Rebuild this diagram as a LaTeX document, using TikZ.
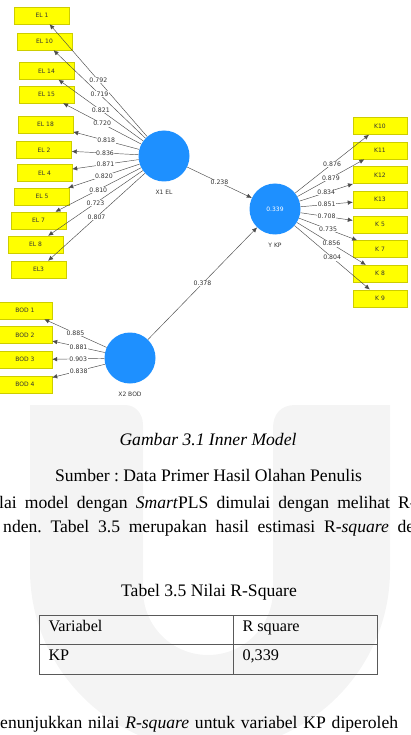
\documentclass[tikz,border=0pt]{standalone}
\usepackage{fontspec}
\setmainfont{Liberation Serif}
\newfontfamily\plsfont{DejaVu Sans}
\usetikzlibrary{arrows.meta,positioning}
\definecolor{plsblue}{RGB}{30,144,255}
\definecolor{plsyellow}{RGB}{255,255,0}
\definecolor{plsedge}{RGB}{205,205,0}
\definecolor{markgray}{RGB}{244,244,244}
\frenchspacing

\begin{document}
\begin{tikzpicture}[x=1pt, y=-1pt,
  node distance=7.2pt,
  indicator/.style={draw=plsedge, fill=plsyellow, minimum width=55pt, minimum height=17pt,
              inner sep=0pt, font=\plsfont\fontsize{6}{7}\selectfont, text=black!80},
  construct/.style={circle, fill=plsblue, minimum size=51pt, inner sep=0pt,
              font=\plsfont\fontsize{6}{7}\selectfont, text=white},
  cname/.style={font=\plsfont\fontsize{6}{7}\selectfont, text=black!80, inner sep=1pt},
  loading/.style={fill=white, inner sep=0.6pt, font=\plsfont\fontsize{6.2}{7}\selectfont, text=black!80},
  arrow/.style={-{Latex[length=5pt, width=4.5pt]}, draw=black!70, line width=0.45pt},
  doc/.style={font=\fontsize{17.6}{21}\selectfont, inner sep=0pt},
  cell/.style={font=\fontsize{16.2}{19}\selectfont, inner sep=0pt, anchor=base west},
  rule/.style={draw=black!65, line width=0.8pt}
]
\clip (0,0) rectangle (411,735);
% faint watermark behind the page text
\fill[markgray] (30,405) -- (125,405) .. controls (135,405) and (143,413) .. (143,425)
  -- (143,590) .. controls (143,626) and (172,655) .. (208,655)
  .. controls (244,655) and (273,626) .. (273,590) -- (273,428)
  .. controls (273,414) and (281,405) .. (295,405) -- (390,405) -- (390,570)
  .. controls (390,669) and (309,750) .. (210,750)
  .. controls (111,750) and (30,669) .. (30,570) -- cycle;

% latent variables
\node[construct] (X1EL) at (164,156) {};
\node[construct] (YKP) at (275,209) {0.339};
\node[construct] (X2BOD) at (130,358) {};
\node[cname, below=7.5pt of X1EL] (X1ELname) {X1 EL};
\node[cname, below=7.5pt of YKP] (YKPname) {Y KP};
\node[cname, below=7.5pt of X2BOD] (X2BODname) {X2 BOD};

% indicators of X1 EL
\node[indicator] (EL1) at (42,15.5) {EL 1};
\node[indicator] (EL10) at (44.5,41.5) {EL 10};
\node[indicator] (EL14) at (46.5,71) {EL 14};
\node[indicator] (EL15) at (46.5,94.5) {EL 15};
\node[indicator] (EL18) at (45.5,124.5) {EL 18};
\node[indicator] (EL2) at (44,150) {EL 2};
\node[indicator] (EL4) at (44.5,173) {EL 4};
\node[indicator] (EL5) at (42,196.5) {EL 5};
\node[indicator] (EL7) at (38.5,220.5) {EL 7};
\node[indicator] (EL8) at (35.5,244.5) {EL 8};
\node[indicator] (EL3) at (38.5,269.5) {EL3};

% indicators of Y KP
\node[indicator, minimum width=54pt] (K10) at (380,126) {K10};
\node[indicator, minimum width=54pt, below=of K10] (K11) {K11};
\node[indicator, minimum width=54pt, below=of K11] (K12) {K12};
\node[indicator, minimum width=54pt, below=of K12] (K13) {K13};
\node[indicator, minimum width=54pt, below=of K13] (K5) {K 5};
\node[indicator, minimum width=54pt, below=of K5] (K7) {K 7};
\node[indicator, minimum width=54pt, below=of K7] (K8) {K 8};
\node[indicator, minimum width=54pt, below=of K8] (K9) {K 9};

% indicators of X2 BOD
\node[indicator, minimum width=54pt] (BOD1) at (25,310.5) {BOD 1};
\node[indicator, minimum width=54pt, below=of BOD1] (BOD2) {BOD 2};
\node[indicator, minimum width=54pt, below=of BOD2] (BOD3) {BOD 3};
\node[indicator, minimum width=54pt, below=of BOD3] (BOD4) {BOD 4};

% outer loadings
\draw[arrow] (X1EL) -- node[loading] {0.792} (EL1);
\draw[arrow] (X1EL) -- node[loading] {0.719} (EL10);
\draw[arrow] (X1EL) -- node[loading] {0.821} (EL14);
\draw[arrow] (X1EL) -- node[loading] {0.720} (EL15);
\draw[arrow] (X1EL) -- node[loading] {0.818} (EL18);
\draw[arrow] (X1EL) -- node[loading] {0.836} (EL2);
\draw[arrow] (X1EL) -- node[loading] {0.871} (EL4);
\draw[arrow] (X1EL) -- node[loading] {0.820} (EL5);
\draw[arrow] (X1EL) -- node[loading] {0.810} (EL7);
\draw[arrow] (X1EL) -- node[loading] {0.723} (EL8);
\draw[arrow] (X1EL) -- node[loading] {0.807} (EL3);
\draw[arrow] (YKP) -- node[loading] {0.876} (K10);
\draw[arrow] (YKP) -- node[loading] {0.879} (K11);
\draw[arrow] (YKP) -- node[loading] {0.834} (K12);
\draw[arrow] (YKP) -- node[loading] {0.851} (K13);
\draw[arrow] (YKP) -- node[loading] {0.708} (K5);
\draw[arrow] (YKP) -- node[loading] {0.735} (K7);
\draw[arrow] (YKP) -- node[loading] {0.856} (K8);
\draw[arrow] (YKP) -- node[loading] {0.804} (K9);
\draw[arrow] (X2BOD) -- node[loading] {0.885} (BOD1);
\draw[arrow] (X2BOD) -- node[loading] {0.881} (BOD2);
\draw[arrow] (X2BOD) -- node[loading] {0.903} (BOD3);
\draw[arrow] (X2BOD) -- node[loading] {0.838} (BOD4);

% path coefficients
\draw[arrow] (X1EL) -- node[loading] {0.238} (YKP);
\draw[arrow] (X2BOD) -- node[loading] {0.378} (YKP);

% page text under the figure
\node[doc, anchor=base] (caption) at (208,445) {\itshape Gambar 3.1 Inner Model};
\node[doc, anchor=base] (source) at (208.5,481) {Sumber : Data Primer Hasil Olahan Penulis};
\node[doc, anchor=base west] (para1) at (-1,508)
  {\makebox[416.5pt][s]{lai model dengan \textit{Smart}PLS dimulai dengan melihat R-}};
\node[doc, anchor=base west] (para2) at (3,532)
  {\makebox[411pt][s]{nden. Tabel 3.5 merupakan hasil estimasi R-\textit{square} de}};
\node[doc, anchor=base] (tabcap) at (209,596) {Tabel 3.5 Nilai R-Square};
\draw[rule] (39.3,615.7) rectangle (377.7,674);
\draw[rule] (39.3,644.3) -- (377.7,644.3);
\draw[rule] (233.3,615.7) -- (233.3,674);
\node[cell] (head1) at (48.3,631) {Variabel};
\node[cell] (head2) at (242.3,631) {R square};
\node[cell] (row1) at (48.3,660.7) {KP};
\node[cell] (row2) at (242.3,660.7) {0,339};
\node[doc, anchor=base west] (para3) at (0,728)
  {\makebox[398pt][s]{enunjukkan nilai \textit{R-square} untuk variabel KP diperoleh}};
\end{tikzpicture}
\end{document}
